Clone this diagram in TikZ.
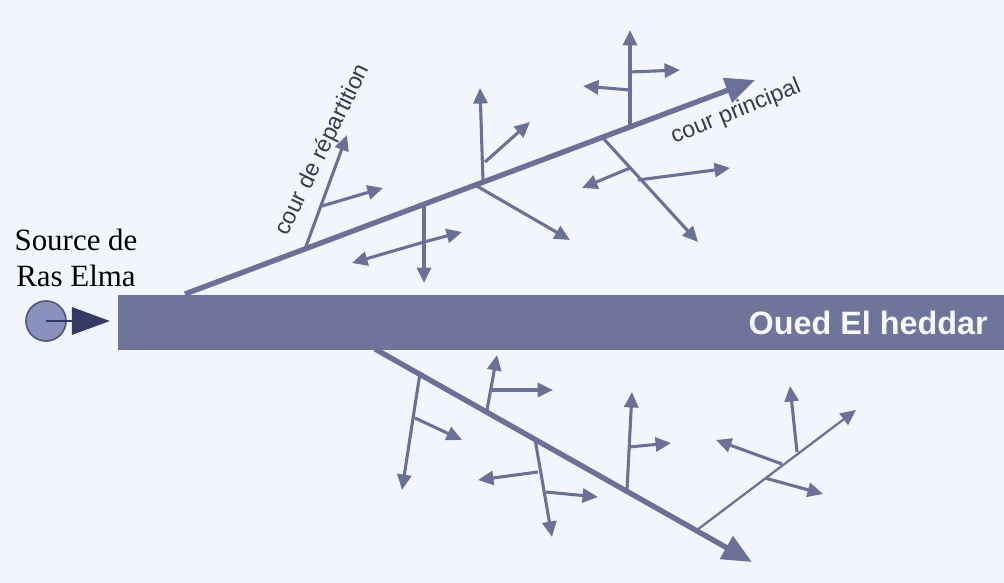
\documentclass[tikz,border=0pt]{standalone}
\usepackage{fontspec}
\setmainfont{Liberation Serif}
\newfontfamily\arialfont{Liberation Sans}
\usetikzlibrary{arrows.meta}
\definecolor{FlowBlue}{RGB}{107,112,150}
\definecolor{BarBlue}{RGB}{110,116,154}
\definecolor{PaperBlue}{RGB}{242,246,252}
\definecolor{SourceFill}{RGB}{138,145,188}
\definecolor{SourceDark}{RGB}{52,58,100}
\definecolor{LabelGray}{RGB}{55,58,80}

\begin{document}
\begin{tikzpicture}[x=0.025cm,y=-0.025cm,
  trunk/.style={draw=FlowBlue,line width=3.8pt,-{Triangle[length=21pt,width=18pt]}},
  twig/.style={draw=FlowBlue,line width=2.2pt,-{Triangle[length=11pt,width=10pt]}},
  thintwig/.style={draw=FlowBlue,line width=1.6pt,-{Triangle[length=11pt,width=10pt]}},
  riverlabel/.style={font=\arialfont\fontsize{16.5}{18}\selectfont,text=LabelGray,inner sep=0pt}]
\fill[PaperBlue] (0,0) rectangle (1004,583);
\useasboundingbox (0,0) rectangle (1004,583);
% oued
\fill[BarBlue] (118,295) rectangle (1004,350);
\node[anchor=east,inner sep=0pt,text=white!95!BarBlue,font=\arialfont\bfseries\fontsize{23}{25}\selectfont] (oued) at (988,323) {Oued El heddar};
% source
\node[align=center,inner sep=0pt,font=\fontsize{22}{25.5}\selectfont] (srclabel) at (76,258) {Source de\\Ras Elma};
\node[circle,draw=FlowBlue!80!black,line width=1.2pt,fill=SourceFill,minimum size=1cm,inner sep=0pt] (src) at (46,321) {};
\coordinate (srctip) at (110,321);
\draw[SourceDark,line width=1.6pt] (src.center) -- (src.east);
\draw[SourceDark,line width=1.6pt,-{Triangle[length=0.95cm,width=0.68cm]}] (src.east) -- (srctip);
% cour principal
\coordinate (up0) at (185,294); \coordinate (upEnd) at (755,80);
\draw[trunk] (up0) -- (upEnd);
\node[riverlabel,rotate=22] (principal) at (736,112) {cour principal};
\coordinate (u1) at (305,249); \coordinate (u1t) at (347,135);
\coordinate (u1a) at (322,206); \coordinate (u1at) at (383,188);
\draw[twig] (u1) -- (u1t);
\draw[twig] (u1a) -- (u1at);
\node[riverlabel,rotate=64] (repartition) at (323,150) {cour de répartition};
\coordinate (u2) at (424,204); \coordinate (u2t) at (424,283);
\coordinate (u2x) at (424,242); \coordinate (u2at) at (352,263); \coordinate (u2bt) at (462,232);
\draw[twig] (u2) -- (u2t);
\draw[twig] (u2x) -- (u2at);
\draw[twig] (u2x) -- (u2bt);
\coordinate (u3) at (483,182); \coordinate (u3t) at (480,88);
\coordinate (u3a) at (485,162); \coordinate (u3at) at (530,122);
\coordinate (u3b) at (475,185); \coordinate (u3bt) at (570,240);
\draw[twig] (u3) -- (u3t);
\draw[twig] (u3a) -- (u3at);
\draw[twig] (u3b) -- (u3bt);
\coordinate (u4) at (630,127); \coordinate (u4t) at (630,30);
\coordinate (u4a) at (630,72); \coordinate (u4at) at (680,70);
\coordinate (u4b) at (630,90); \coordinate (u4bt) at (583,86);
\draw[twig] (u4) -- (u4t);
\draw[twig] (u4a) -- (u4at);
\draw[twig] (u4b) -- (u4bt);
\coordinate (u5) at (602,137); \coordinate (u5t) at (698,242);
\coordinate (u5a) at (630,168); \coordinate (u5at) at (582,188);
\coordinate (u5b) at (638,180); \coordinate (u5bt) at (730,168);
\draw[twig] (u5) -- (u5t);
\draw[twig] (u5a) -- (u5at);
\draw[twig] (u5b) -- (u5bt);
% lower branch
\coordinate (lo0) at (375,349); \coordinate (loEnd) at (752,562);
\draw[trunk] (lo0) -- (loEnd);
\coordinate (l1) at (420,373); \coordinate (l1t) at (402,490);
\coordinate (l1a) at (415,418); \coordinate (l1at) at (462,440);
\draw[twig] (l1) -- (l1t);
\draw[twig] (l1a) -- (l1at);
\coordinate (l2) at (487,410); \coordinate (l2t) at (497,355);
\coordinate (l2a) at (492,390); \coordinate (l2at) at (553,390);
\draw[twig] (l2) -- (l2t);
\draw[twig] (l2a) -- (l2at);
\coordinate (l3) at (535,439); \coordinate (l3t) at (552,537);
\coordinate (l3a) at (538,472); \coordinate (l3at) at (478,480);
\coordinate (l3b) at (546,492); \coordinate (l3bt) at (598,497);
\draw[twig] (l3) -- (l3t);
\draw[twig] (l3a) -- (l3at);
\draw[twig] (l3b) -- (l3bt);
\coordinate (l4) at (627,490); \coordinate (l4t) at (632,392);
\coordinate (l4a) at (629,447); \coordinate (l4at) at (671,443);
\draw[twig] (l4) -- (l4t);
\draw[twig] (l4a) -- (l4at);
\coordinate (l5) at (697,530); \coordinate (l5t) at (856,410);
\coordinate (l5a) at (797,452); \coordinate (l5at) at (790,386);
\coordinate (l5b) at (782,464); \coordinate (l5bt) at (716,440);
\coordinate (l5c) at (765,478); \coordinate (l5ct) at (823,494);
\draw[thintwig] (l5) -- (l5t);
\draw[twig] (l5a) -- (l5at);
\draw[twig] (l5b) -- (l5bt);
\draw[twig] (l5c) -- (l5ct);
\end{tikzpicture}
\end{document}
